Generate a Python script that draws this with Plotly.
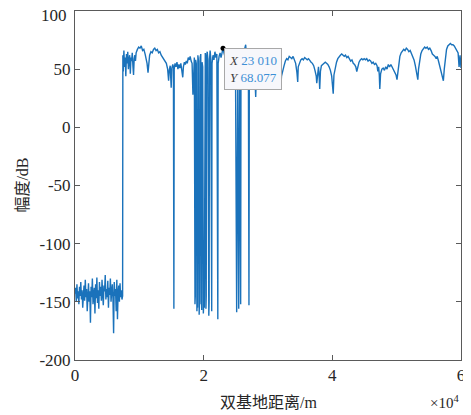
import plotly.graph_objects as go

# ---- data ----
noise_x = [0,100,200,300,400,500,600,700,800,900,1000,1100,1200,1300,1400,1500,1600,1700,1800,1900,
           2000,2100,2200,2300,2400,2500,2600,2700,2800,2900,3000,3100,3200,3300,3400,3500,3600,3700,3800,3900,
           4000,4100,4200,4300,4400,4500,4600,4700,4800,4900,5000,5100,5200,5300,5400,5500,5600,5700,5800,5900,
           6000,6100,6200,6300,6400,6500,6600,6700,6800,6900,7000,7100,7200,7300,7400]
noise_y = [-143,-138,-150,-135,-147,-141,-152,-137,-145,-133,-148,-140,-155,-142,-136,-149,-131,-146,-139,-158,
           -144,-134,-150,-141,-168,-137,-146,-130,-152,-143,-138,-160,-135,-147,-129,-151,-140,-156,-133,-145,
           -137,-149,-131,-143,-153,-136,-141,-127,-148,-139,-146,-132,-155,-138,-144,-130,-150,-141,-135,-147,
           -177,-133,-145,-139,-158,-131,-165,-142,-136,-150,-134,-146,-140,-148,-145]

near_x = [7440,7500,7600,7700,7800,7900,8000,8100,8200,8300,8400,8500,8600,8700,8800,8900,9000,9100,9200,9300,
          9400,9500,9700,9900,10100,10300,10500,10700,10900,11050,11200,11350,11450,11600,11800,12000,12200,12400,12600,12800,
          13000,13200,13400,13600,13800,14000,14200,14400,14550,14650,14800,14950,15050,15200,15300,15370,15420,15550,15700,15850,
          16000,16150,16300,16450,16600,16750,16850,17000,17150,17300,17450,17600,17750,17900,18050,18200,18330,18420,18550,18650,
          18700,18750,18850,18950,19000,19050,19100,19200,19300,19350,19400,19450,19550,19650,19700,19750,19850,19950,20000,20050,
          20100,20150,20250,20350,20400,20450,20550,20650,20800,20850,20900,21000,21100,21200,21250,21300,21450,21600,21750,21900,
          22050,22200,22250,22400,22550,22700,22850,23010,23150,23300,23450,23600,23750,23900,24050,24200,24350,24500,24650,24800,
          24950,25130,25200,25300,25450,25500,25600,25750,25800,25950,26100,26250,26400,26530,26650,26800,26950,27040,27100,27250,
          27400,27550,27700,27850,27950,28090,28200,28400,28600]
near_y = [62,48,66,52,60,44,63,55,65,50,58,62,46,60,57,64,53,45,59,62,
          57,64,67,69,68,70,66,67,63,60,55,47,52,62,65,64,67,68,66,67,
          64,65,62,60,58,57,55,50,40,49,53,34,51,54,52,-156,50,55,52,56,
          50,54,51,55,49,43,52,56,54,57,55,60,58,61,57,55,28,52,60,-152,
          -145,58,55,-158,-149,-155,62,57,-161,-146,-152,60,63,-150,-157,56,52,-160,-148,-143,
          -155,58,64,-156,-145,61,65,59,-162,-150,57,66,60,-151,-158,55,62,58,65,60,
          63,-165,55,61,64,60,66,68.077,64,60,58,62,57,60,55,58,53,56,51,54,
          50,-159,52,55,-156,54,56,-152,51,58,62,65,69,71,62,58,55,-153,54,57,
          55,58,54,51,45,26,48,52,55]

far_x = [28800,29000,29200,29400,29600,29800,30000,30200,30400,30600,30800,31000,31200,31400,31600,31800,32000,32100,32300,32500,
         32700,32900,33100,33300,33500,33700,33900,34100,34300,34500,34620,34700,34900,35100,35300,35500,35700,35900,36100,36300,
         36500,36700,36900,37100,37300,37500,37580,37700,37850,37950,38040,38150,38300,38500,38700,38900,39100,39300,39500,39700,
         39900,40140,40250,40450,40650,40850,41050,41250,41450,41650,41850,42050,42250,42450,42650,42850,43050,43250,43450,43650,
         43800,43950,44150,44350,44550,44750,44950,45150,45350,45550,45750,45950,46150,46350,46550,46750,46950,47070,47200,47300,
         47380,47500,47700,47900,48100,48300,48500,48700,48900,49100,49300,49500,49700,49900,50050,50150,50300,50500,50700,50900,
         51100,51300,51500,51700,51900,52100,52300,52500,52700,52900,53100,53290,53400,53550,53750,53950,54150,54350,54550,54750,
         54950,55150,55350,55550,55750,55950,56150,56300,56500,56700,56900,57100,57260,57400,57550,57750,57950,58150,58350,58550,
         58750,58950,59150,59400,59550,59700,59850,60000]
far_y = [57,58,56,54,55,52,48,53,56,55,53,50,47,44,42,38,36,44,50,53,
         57,59,58,61,60,59,61,58,55,47,39,52,56,58,59,58,60,59,58,59,
         57,56,55,53,49,44,38,48,52,44,33,48,53,54,55,56,55,54,52,49,
         44,29,45,52,56,59,61,62,63,62,61,62,60,61,59,57,58,55,54,52,
         48,53,56,58,59,58,59,58,59,57,58,57,55,56,54,55,53,48,52,45,
         33,46,50,51,49,52,50,54,52,54,52,50,48,45,41,46,55,61,64,66,
         67,66,68,67,65,66,63,61,58,53,47,41,50,58,63,66,68,69,68,69,
         67,68,66,63,62,61,59,61,57,53,48,44,40,50,60,67,70,71,72,71,
         71,70,68,66,64,52,62,51]

tip_x = [23010]
tip_y = [68.077]

x_tick_vals = [0, 20000, 40000, 60000]
x_tick_text = ["0", "2", "4", "6"]
y_tick_vals = [100, 50, 0, -50, -100, -150, -200]
y_tick_text = ["100", "50", "0", "-50", "-100", "-150", "-200"]

dist = noise_x + near_x + far_x
amp = noise_y + near_y + far_y

SERIF = "Liberation Serif, Times New Roman, Noto Sans CJK SC, serif"
AX = "#5a5a5a"
TXT = "#262626"

fig = go.Figure()
fig.add_trace(go.Scatter(x=dist, y=amp, mode="lines",
                         line=dict(color="#1a72bb", width=1.4), showlegend=False))
fig.add_trace(go.Scatter(x=tip_x, y=tip_y, mode="markers",
                         marker=dict(color="black", size=5), showlegend=False))

axis_common = dict(showgrid=False, zeroline=False, showline=True, linecolor=AX, linewidth=1,
                   mirror="ticks", ticks="inside", ticklen=5, tickcolor=AX, tickwidth=1,
                   automargin=False, ticklabeloverflow="allow",
                   tickfont=dict(family=SERIF, size=17, color=TXT))
# the top label ("100") sits at the window edge; it is drawn as an annotation a few px lower
y_axis_text = ["" if v == max(y_tick_vals) else t for v, t in zip(y_tick_vals, y_tick_text)]
fig.update_xaxes(range=[0, 60000], tickvals=x_tick_vals, ticktext=x_tick_text, **axis_common)
fig.update_yaxes(range=[-200, 100], tickvals=y_tick_vals, ticktext=y_axis_text, **axis_common)
fig.add_annotation(x=0, y=max(y_tick_vals), xref="paper", yref="y",
                   text=y_tick_text[y_tick_vals.index(max(y_tick_vals))], showarrow=False,
                   xanchor="right", yanchor="middle", xshift=-6, yshift=-4,
                   font=dict(family=SERIF, size=17, color=TXT))

tip_text = ("<i>X</i> <span style='color:#3d8fd6'>%s</span><br><i>Y</i> <span style='color:#3d8fd6'>%s</span>"
            % ("23 010", "68.077"))
fig.add_annotation(x=tip_x[0], y=tip_y[0], xref="x", yref="y", text=tip_text, showarrow=False,
                   xanchor="left", yanchor="top", align="left", xshift=1, yshift=0,
                   bgcolor="#f7f7fb", bordercolor="#a8a8a8", borderwidth=1, borderpad=4,
                   font=dict(family=SERIF, size=13, color="#404040"))

fig.add_annotation(x=0.5, y=-0.123, xref="paper", yref="paper", text="双基地距离/m", showarrow=False,
                   xanchor="center", yanchor="middle", font=dict(family=SERIF, size=16, color=TXT))
fig.add_annotation(x=-0.137, y=0.5, xref="paper", yref="paper", text="幅度/dB", showarrow=False,
                   textangle=-90, xanchor="center", yanchor="middle",
                   font=dict(family=SERIF, size=16, color=TXT))
fig.add_annotation(x=1.0, y=-0.12, xref="paper", yref="paper", text="×10<sup>4</sup>", showarrow=False,
                   xanchor="right", yanchor="middle", font=dict(family=SERIF, size=15, color=TXT))

# page body adds an 8px offset, so the figure is sized to fill the rest of the window
fig.update_layout(width=463, height=407, margin=dict(l=67, r=10, t=3, b=55),
                  paper_bgcolor="white", plot_bgcolor="white")
fig.write_html("out.html")
